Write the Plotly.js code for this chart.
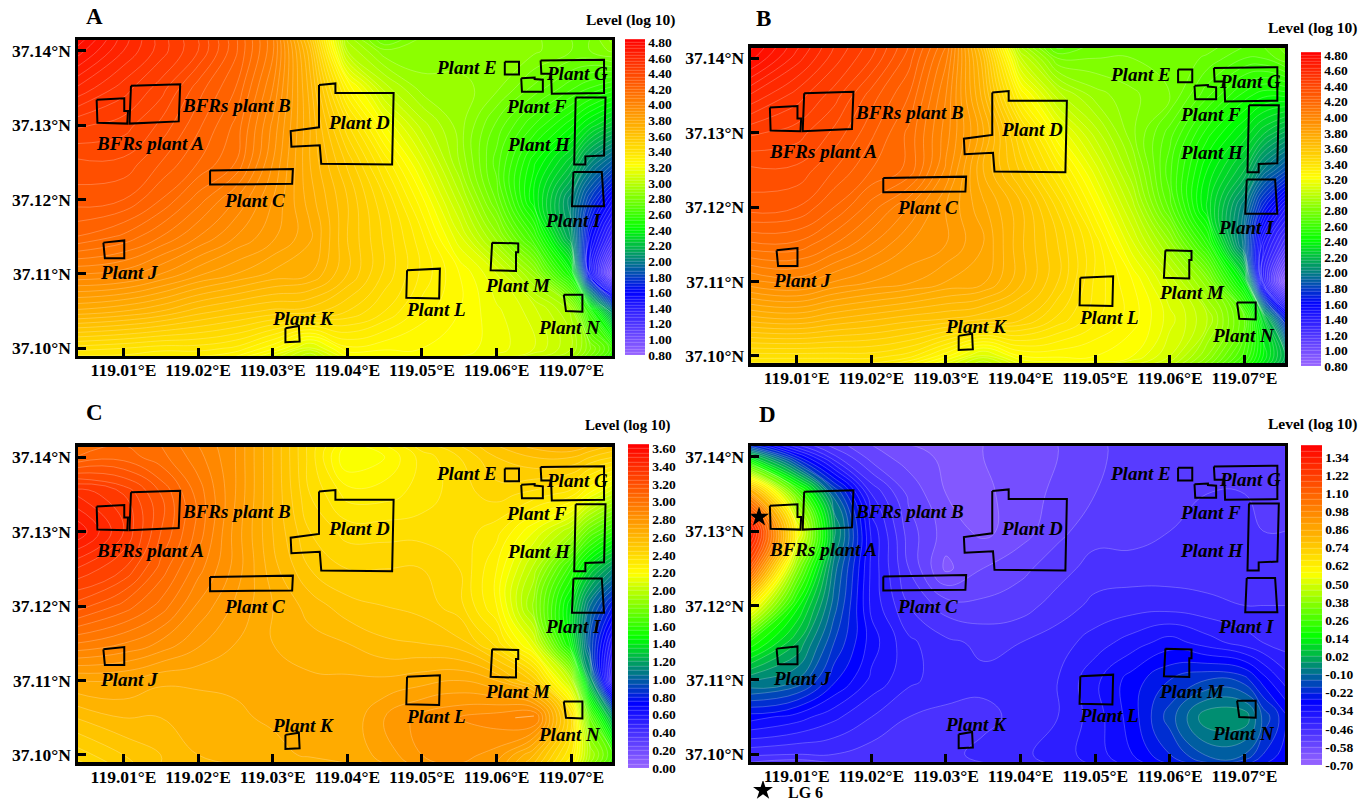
<!DOCTYPE html>
<html><head><meta charset="utf-8">
<script src="https://cdn.plot.ly/plotly-3.0.1.min.js"></script>
<style>html,body{margin:0;padding:0;background:#fff}</style></head>
<body><div id="chart" style="width:1363px;height:803px"></div>
<script>
const lons=[119.0035,119.01,119.015,119.02,119.025,119.03,119.035,119.04,119.045,119.05,119.055,119.06,119.065,119.07,119.0725,119.0755];
const lats=[37.1416,37.14,37.135,37.13,37.125,37.12,37.115,37.11,37.105,37.10,37.0989];
const zA=[
[4.8,4.62,4.5,4.4,4.25,4.05,3.6,2.95,2.75,2.85,2.85,2.85,2.85,2.8,2.8,2.9],
[4.75,4.6,4.5,4.4,4.25,4.05,3.65,3.0,2.85,2.85,2.85,2.85,2.85,2.8,2.8,2.85],
[4.6,4.5,4.42,4.3,4.2,4.0,3.7,3.28,3.02,2.9,2.9,2.85,2.75,2.65,2.6,2.55],
[4.45,4.42,4.35,4.25,4.15,3.95,3.72,3.45,3.2,3.02,2.9,2.75,2.6,2.45,2.35,2.25],
[4.35,4.35,4.28,4.2,4.12,3.92,3.72,3.55,3.35,3.14,2.92,2.7,2.45,2.25,2.05,1.9],
[4.3,4.28,4.2,4.1,4.0,3.88,3.74,3.6,3.44,3.25,3.02,2.75,2.4,2.05,1.8,1.55],
[4.2,4.15,4.08,4.0,3.92,3.85,3.77,3.6,3.47,3.33,3.13,2.9,2.6,2.1,1.6,1.3],
[4.0,3.98,3.92,3.85,3.8,3.75,3.72,3.6,3.47,3.35,3.24,3.12,2.9,2.45,1.55,0.95],
[3.75,3.72,3.68,3.62,3.58,3.55,3.54,3.48,3.4,3.3,3.24,3.17,3.1,2.95,2.55,2.05],
[3.42,3.4,3.38,3.38,3.35,3.25,3.1,3.27,3.25,3.24,3.22,3.18,3.12,3.0,2.85,2.65],
[3.35,3.35,3.32,3.32,3.28,3.15,3.0,3.2,3.2,3.2,3.2,3.15,3.05,2.95,2.8,2.6]];
const zB=[
[4.82,4.65,4.52,4.42,4.28,4.08,3.6,2.95,2.7,2.78,2.8,2.8,2.78,2.72,2.72,2.78],
[4.78,4.62,4.5,4.4,4.26,4.05,3.65,3.05,2.8,2.8,2.8,2.8,2.75,2.68,2.68,2.75],
[4.6,4.5,4.42,4.3,4.2,4.0,3.7,3.28,3.02,2.9,2.85,2.8,2.65,2.5,2.45,2.45],
[4.45,4.42,4.35,4.25,4.15,3.98,3.77,3.47,3.2,3.02,2.85,2.7,2.5,2.35,2.25,2.15],
[4.35,4.35,4.28,4.2,4.15,3.95,3.72,3.55,3.35,3.14,2.92,2.65,2.4,2.2,2.0,1.85],
[4.3,4.28,4.2,4.1,4.0,3.88,3.77,3.65,3.47,3.25,3.02,2.7,2.35,2.0,1.7,1.45],
[4.15,4.15,4.08,4.0,3.92,3.88,3.8,3.65,3.52,3.35,3.13,2.9,2.55,1.95,1.45,1.2],
[3.95,3.98,3.92,3.88,3.85,3.8,3.77,3.65,3.52,3.35,3.24,3.07,2.85,2.35,1.4,0.85],
[3.7,3.72,3.68,3.65,3.62,3.6,3.57,3.53,3.43,3.33,3.26,3.14,3.0,2.72,2.3,1.7],
[3.42,3.42,3.42,3.42,3.38,3.25,3.1,3.24,3.25,3.24,3.2,3.08,2.88,2.62,2.4,2.15],
[3.35,3.35,3.35,3.35,3.28,3.15,3.0,3.15,3.18,3.18,3.12,3.02,2.82,2.55,2.35,2.1]];
const zC=[
[3.0,3.05,3.0,2.9,2.8,2.6,2.38,2.2,2.25,2.38,2.45,2.55,2.62,2.65,2.6,2.55],
[3.05,3.08,3.02,2.92,2.8,2.6,2.38,2.15,2.2,2.32,2.4,2.5,2.55,2.55,2.5,2.45],
[3.4,3.3,3.15,2.98,2.8,2.6,2.4,2.28,2.28,2.32,2.38,2.42,2.38,2.32,2.18,2.05],
[3.55,3.35,3.15,2.98,2.78,2.6,2.45,2.38,2.38,2.38,2.38,2.32,2.15,1.95,1.75,1.6],
[3.35,3.25,3.08,2.92,2.78,2.62,2.5,2.45,2.45,2.45,2.4,2.25,1.98,1.6,1.35,1.15],
[3.18,3.08,2.98,2.84,2.74,2.65,2.58,2.52,2.5,2.48,2.42,2.25,1.88,1.4,1.05,0.8],
[2.95,2.9,2.84,2.76,2.7,2.65,2.62,2.6,2.56,2.55,2.52,2.38,2.1,1.45,0.95,0.55],
[2.7,2.7,2.66,2.66,2.66,2.66,2.66,2.66,2.66,2.68,2.7,2.65,2.48,2.0,1.2,0.4],
[2.55,2.6,2.6,2.62,2.64,2.66,2.66,2.66,2.75,2.82,2.85,2.88,2.92,2.4,1.75,1.2],
[2.42,2.5,2.55,2.6,2.62,2.63,2.66,2.66,2.72,2.8,2.82,2.78,2.6,2.3,1.95,1.7],
[2.38,2.48,2.55,2.58,2.6,2.6,2.62,2.65,2.7,2.78,2.8,2.75,2.55,2.25,1.9,1.65]];
const zD=[
[-0.2,-0.42,-0.52,-0.58,-0.62,-0.64,-0.62,-0.6,-0.58,-0.55,-0.52,-0.5,-0.5,-0.52,-0.52,-0.5],
[0.1,-0.25,-0.45,-0.56,-0.6,-0.63,-0.62,-0.6,-0.58,-0.55,-0.52,-0.5,-0.5,-0.5,-0.52,-0.5],
[0.95,0.32,-0.12,-0.42,-0.55,-0.62,-0.63,-0.6,-0.57,-0.54,-0.52,-0.5,-0.5,-0.5,-0.5,-0.5],
[1.4,0.6,0.0,-0.35,-0.52,-0.6,-0.63,-0.6,-0.55,-0.52,-0.52,-0.5,-0.48,-0.48,-0.5,-0.5],
[1.15,0.38,-0.08,-0.35,-0.5,-0.63,-0.58,-0.55,-0.52,-0.48,-0.48,-0.48,-0.48,-0.48,-0.48,-0.48],
[0.65,0.16,-0.12,-0.35,-0.46,-0.52,-0.53,-0.52,-0.48,-0.45,-0.44,-0.44,-0.45,-0.46,-0.46,-0.46],
[0.22,0.02,-0.18,-0.32,-0.41,-0.45,-0.47,-0.46,-0.44,-0.4,-0.36,-0.32,-0.36,-0.4,-0.42,-0.44],
[-0.05,-0.1,-0.25,-0.35,-0.41,-0.44,-0.45,-0.45,-0.42,-0.35,-0.28,-0.22,-0.18,-0.2,-0.28,-0.36],
[-0.28,-0.32,-0.37,-0.42,-0.46,-0.47,-0.47,-0.45,-0.42,-0.36,-0.28,-0.16,-0.03,-0.03,-0.15,-0.25],
[-0.45,-0.46,-0.46,-0.48,-0.48,-0.47,-0.45,-0.43,-0.4,-0.36,-0.3,-0.22,-0.13,-0.14,-0.22,-0.28],
[-0.5,-0.52,-0.5,-0.5,-0.5,-0.48,-0.46,-0.44,-0.41,-0.37,-0.32,-0.25,-0.18,-0.2,-0.25,-0.3]];

const ticksA=[0.8,1.0,1.2,1.4,1.6,1.8,2.0,2.2,2.4,2.6,2.8,3.0,3.2,3.4,3.6,3.8,4.0,4.2,4.4,4.6,4.8];
const ticksC=[0,0.2,0.4,0.6,0.8,1.0,1.2,1.4,1.6,1.8,2.0,2.2,2.4,2.6,2.8,3.0,3.2,3.4,3.6];
const ticksD=[-0.7,-0.58,-0.46,-0.34,-0.22,-0.1,0.02,0.14,0.26,0.38,0.5,0.62,0.74,0.86,0.98,1.1,1.22,1.34];
const lonTicks=[119.01,119.02,119.03,119.04,119.05,119.06,119.07];
const lonLabels=['119.01°E','119.02°E','119.03°E','119.04°E','119.05°E','119.06°E','119.07°E'];
const latTicks=[37.10,37.11,37.12,37.13,37.14];
const latLabels=['37.10°N','37.11°N','37.12°N','37.13°N','37.14°N'];

const plantLons=[
[119.0064,119.0101,119.0101,119.0106,119.0105,119.0065],
[119.0110,119.0176,119.0174,119.0108],
[119.0216,119.0327,119.0326,119.0216],
[119.0362,119.0384,119.0384,119.0462,119.0460,119.0365,119.0363,119.0325,119.0324,119.0362],
[119.0611,119.0630,119.0630,119.0611],
[119.0633,119.0651,119.0651,119.0662,119.0662,119.0634],
[119.0659,119.0744,119.0744,119.0674,119.0673,119.0660],
[119.0706,119.0746,119.0744,119.0719,119.0719,119.0704],
[119.0703,119.0741,119.0744,119.0701],
[119.0073,119.0101,119.0101,119.0075],
[119.0317,119.0335,119.0336,119.0317],
[119.0480,119.0524,119.0523,119.0479],
[119.0594,119.0629,119.0629,119.0626,119.0626,119.0592],
[119.0690,119.0715,119.0715,119.0693]];
const plantLats=[
[37.1334,37.1336,37.1319,37.1319,37.1302,37.1303],
[37.1353,37.1355,37.1305,37.1302],
[37.1239,37.1241,37.1221,37.1220],
[37.1354,37.1356,37.1343,37.1343,37.1247,37.1248,37.1273,37.1271,37.1292,37.1297],
[37.1385,37.1385,37.1368,37.1368],
[37.1363,37.1364,37.1362,37.1361,37.1345,37.1345],
[37.1387,37.1388,37.1343,37.1342,37.1369,37.1369],
[37.1337,37.1337,37.1259,37.1258,37.1247,37.1247],
[37.1237,37.1237,37.1191,37.1191],
[37.1142,37.1145,37.1121,37.1121],
[37.1027,37.1030,37.1009,37.1008],
[37.1105,37.1107,37.1067,37.1068],
[37.1142,37.1141,37.1129,37.1129,37.1104,37.1105],
[37.1072,37.1072,37.1049,37.1050]];
const labelNames=['BFRs plant B','BFRs plant A','Plant C','Plant D','Plant E','Plant F','Plant G','Plant H','Plant I','Plant J','Plant K','Plant L','Plant M','Plant N'];
const labelLons=[119.0251,119.0135,119.0275,119.0415,119.0560,119.0654,119.0708,119.0657,119.0702,119.0107,119.0340,119.0519,119.0629,119.0698];
const labelLats=[37.1327,37.1275,37.1199,37.1304,37.1378,37.1325,37.1369,37.1274,37.1172,37.1102,37.1040,37.1052,37.1085,37.1028];
const starLon=[119.00495], starLat=[37.1319];

const SERIF='"Liberation Serif","Times New Roman",serif';
const W=1363,H=803;
const scale=[[0,'#9966ff'],[0.2,'#0000ff'],[0.4,'#00ff00'],[0.6,'#ffff00'],[0.8,'#ff8000'],[1,'#ff0000']];
const panels=[
 {s:'',  z:zA,letter:'A',box:[78,611.5,40.3,355.7],lo:0.8,hi:4.84,step:0.04,ticks:ticksA,bar:[625,39,355,20],letterAt:[94,17],titleAt:[678,20,15.5]},
 {s:'2', z:zB,letter:'B',box:[751.2,1284.8,47.9,363.4],lo:0.8,hi:4.84,step:0.04,ticks:ticksA,bar:[1301,52,366,20],letterAt:[763,19],titleAt:[1360,28,15.5]},
 {s:'3', z:zC,letter:'C',box:[78,611.5,446.9,762.4],lo:0,hi:3.65,step:0.05,ticks:ticksC,bar:[628,444,768,21],letterAt:[94,413],titleAt:[673,425,14.8]},
 {s:'4', z:zD,letter:'D',box:[751.2,1284.8,446.3,761.7],lo:-0.7,hi:1.42,step:0.04,ticks:ticksD,bar:[1301,445,765,21],letterAt:[767,415],titleAt:[1360,424,15.5]}
];
const data=[],annotations=[];
const layout={width:W,height:H,margin:{l:0,r:0,t:0,b:0,autoexpand:false},paper_bgcolor:'#fff',plot_bgcolor:'#fff',showlegend:false,font:{family:SERIF,color:'#000'}};
panels.forEach(p=>{
 const xa='x'+p.s,ya='y'+p.s;
 const axBase={showgrid:false,zeroline:false,showline:true,mirror:true,linecolor:'#000',linewidth:3.5,ticks:'inside',ticklen:8,tickwidth:3,tickcolor:'#000',
   tickfont:{family:SERIF,size:17.5,color:'#000'}};
 layout['xaxis'+p.s]=Object.assign({},axBase,{domain:[p.box[0]/W,p.box[1]/W],range:[119.0039,119.0754],anchor:ya,tickmode:'array',tickvals:lonTicks,ticktext:lonLabels.map(t=>'<b>'+t+'</b>'),ticklabelstandoff:-4});
 layout['yaxis'+p.s]=Object.assign({},axBase,{domain:[1-p.box[3]/H,1-p.box[2]/H],range:[37.0990,37.1414],anchor:xa,tickmode:'array',tickvals:latTicks,ticktext:latLabels.map(t=>'<b>'+t+'</b>')});
 data.push({type:'contour',x:lons,y:lats,z:p.z,xaxis:xa,yaxis:ya,colorscale:scale,zmin:p.lo,zmax:p.hi,autocontour:false,
   contours:{start:p.lo,end:p.hi,size:p.step,coloring:'fill',showlines:true},
   line:{color:'rgba(255,255,255,0.4)',width:0.6,smoothing:1.3},hoverinfo:'skip',
   colorbar:{x:p.bar[0]/W,xanchor:'left',xpad:0,y:1-p.bar[2]/H,yanchor:'bottom',ypad:0,len:p.bar[2]-p.bar[1],lenmode:'pixels',thickness:p.bar[3],thicknessmode:'pixels',
     outlinewidth:0,borderwidth:0,ticks:'',tickmode:'array',tickvals:p.ticks,ticktext:p.ticks.map(v=>'<b>'+v.toFixed(2)+'</b>'),tickfont:{family:SERIF,size:13.5,color:'#000'}}});
 plantLons.forEach((xs,i)=>{
   data.push({type:'scatter',mode:'lines',x:xs.concat(xs[0]),y:plantLats[i].concat(plantLats[i][0]),xaxis:xa,yaxis:ya,line:{color:'#000',width:2},hoverinfo:'skip',showlegend:false});
 });
 labelNames.forEach((n,i)=>{
   annotations.push({xref:xa,yref:ya,x:labelLons[i],y:labelLats[i],text:'<b><i>'+n+'</i></b>',showarrow:false,font:{family:SERIF,size:19,color:'#000'},xanchor:'center',yanchor:'middle'});
 });
 annotations.push({xref:'paper',yref:'paper',x:p.letterAt[0]/W,y:1-p.letterAt[1]/H,text:'<b>'+p.letter+'</b>',showarrow:false,font:{family:SERIF,size:23,color:'#000'},xanchor:'center',yanchor:'middle'});
 annotations.push({xref:'paper',yref:'paper',x:p.titleAt[0]/W,y:1-p.titleAt[1]/H,text:'<b>Level (log 10)</b>',showarrow:false,font:{family:SERIF,size:p.titleAt[2],color:'#000'},xanchor:'right',yanchor:'middle'});
});
data.push({type:'scatter',mode:'markers',x:starLon,y:starLat,xaxis:'x4',yaxis:'y4',marker:{symbol:'star',size:15,color:'#000'},hoverinfo:'skip',showlegend:false});
// the legend's star sits below panel D, on a small axis-free strip of its own
layout.xaxis5={domain:[750/W,776/W],range:[0,1],visible:false,anchor:'y5',fixedrange:true};
layout.yaxis5={domain:[0,22/H],range:[0,1],visible:false,anchor:'x5',fixedrange:true};
data.push({type:'scatter',mode:'markers',x:[0.5],y:[0.58],xaxis:'x5',yaxis:'y5',marker:{symbol:'star',size:15,color:'#000'},hoverinfo:'skip',showlegend:false});
annotations.push({xref:'paper',yref:'paper',x:786/W,y:1-792/H,text:'<b>LG 6</b>',showarrow:false,font:{family:SERIF,size:16,color:'#000'},xanchor:'left',yanchor:'middle'});
layout.annotations=annotations;
Plotly.newPlot('chart',data,layout,{displayModeBar:false,staticPlot:true});
</script></body></html>
